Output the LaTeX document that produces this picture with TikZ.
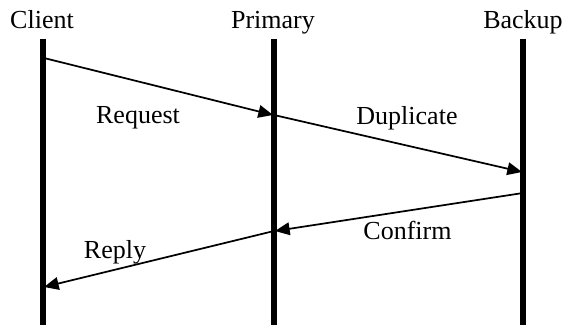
\documentclass[tikz,border=0pt]{standalone}
\usepackage{fontspec}
\setmainfont{Liberation Serif}
\usetikzlibrary{arrows.meta}
\begin{document}
\begin{tikzpicture}[x=0.75pt,y=-0.75pt,
  life/.style={line width=3.8pt},
  msg/.style={line width=1.3pt,-{Triangle[length=11pt,width=9.5pt]}},
  lbl/.style={font=\fontsize{19.5}{22}\selectfont, inner sep=0pt, anchor=base},
]
\useasboundingbox (0,0) rectangle (571,325);
% headers
\node[lbl] (client)  at (42,28)  {Client};
\node[lbl] (primary) at (273,28) {Primary};
\node[lbl] (backup)  at (523,28) {Backup};
% lifelines
\coordinate (ct) at (43,38.5);  \coordinate (cb) at (43,325);
\coordinate (pt) at (274,38.5); \coordinate (pb) at (274,325);
\coordinate (bt) at (523,38.5); \coordinate (bb) at (523,325);
\draw[life] (ct) -- (cb);
\draw[life] (pt) -- (pb);
\draw[life] (bt) -- (bb);
% message points
\coordinate (c1) at (44,58);
\coordinate (p1) at (273,115);
\coordinate (p1s) at (274,115);
\coordinate (b1) at (522,172);
\coordinate (b2) at (523,193);
\coordinate (p2) at (275,231);
\coordinate (p2s) at (274,231);
\coordinate (c2) at (44,287);
\draw[msg] (c1) -- (p1);
\draw[msg] (p1s) -- (b1);
\draw[msg] (b2) -- (p2);
\draw[msg] (p2s) -- (c2);
% labels
\node[lbl] (request)   at (138,123)   {Request};
\node[lbl] (duplicate) at (407,124)   {Duplicate};
\node[lbl] (confirm)   at (407.5,239) {Confirm};
\node[lbl] (reply)     at (115,258)   {Reply};
\end{tikzpicture}
\end{document}
